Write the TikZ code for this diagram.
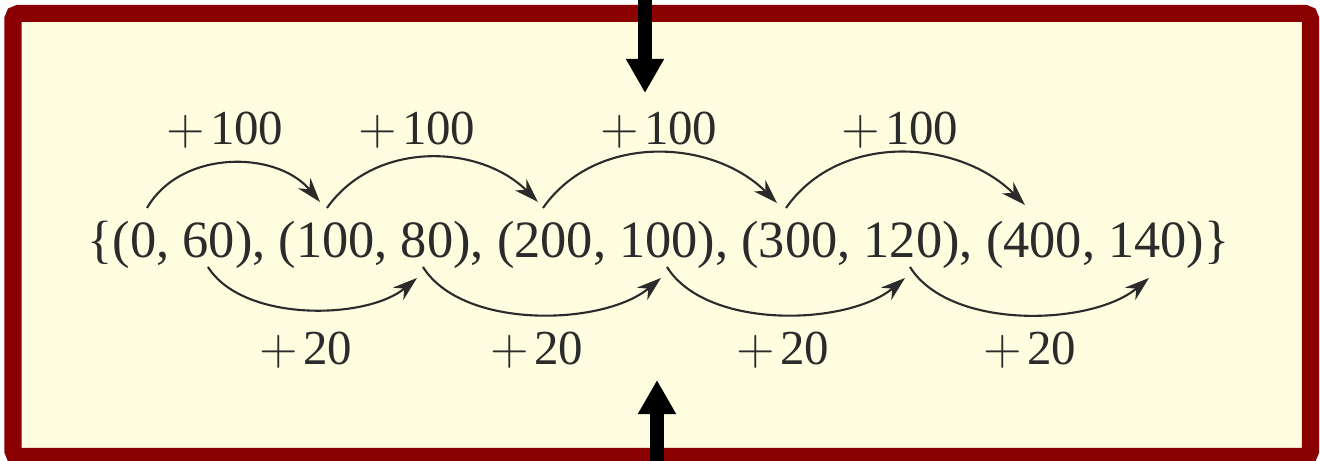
\documentclass[tikz,border=0pt]{standalone}
\usepackage{fontspec}
\setmainfont{Liberation Serif}
\usepackage{tikz}
\usetikzlibrary{arrows.meta,positioning}
\definecolor{frame}{HTML}{8B0000}
\definecolor{paper}{HTML}{FFFDE0}
\definecolor{ink}{HTML}{2B2B2B}
\newcommand{\plusstep}[1]{$+$\kern1.4pt#1}
\tikzset{
  setline/.style={font=\fontsize{14.9}{18}\selectfont, text=ink,
    inner sep=0pt, anchor=base west},
  steplabel/.style={font=\fontsize{13.9}{16}\selectfont, text=ink,
    inner sep=0pt},
  hop/.style={-{Stealth[length=7pt,width=4.6pt]}, ink, line width=0.6pt},
  pointer/.style={-{Triangle[length=9.7pt,width=10.2pt]}, line width=4pt, black},
}

\begin{document}
\begin{tikzpicture}[x=0.01cm,y=0.01cm]
    \useasboundingbox (0,0) rectangle (1320,461);
    \draw[frame, fill=paper, line width=4.84pt, rounded corners=1.5pt] (13,447.5) rectangle (1310.5,4.5);
    \node[setline] (pairs) at (87,203) {\{(0, 60), (100, 80), (200, 100), (300, 120), (400, 140)\}};
    % jumps in x
    \coordinate (x0) at (147,253);
    \coordinate (x1) at (320,259);
    \coordinate (x1s) at (327,253);
    \coordinate (x2) at (538,259);
    \coordinate (x2s) at (543,253);
    \coordinate (x3) at (777,258);
    \coordinate (x3s) at (786,253);
    \coordinate (x4) at (1025,256);
    \draw[hop] (x0) to[out=60,in=130] (x1);
    \draw[hop] (x1s) to[out=55,in=135] (x2);
    \draw[hop] (x2s) to[out=55,in=135] (x3);
    \draw[hop] (x3s) to[out=55,in=135] (x4);
    \node[steplabel] (dx1) at (225,331) {\plusstep{100}};
    \node[steplabel] (dx2) at (417,331) {\plusstep{100}};
    \node[steplabel] (dx3) at (659,331) {\plusstep{100}};
    \node[steplabel] (dx4) at (900,331) {\plusstep{100}};
    % jumps in y
    \coordinate (y0) at (208,194);
    \coordinate (y1) at (417,183);
    \coordinate (y1s) at (423,194);
    \coordinate (y2) at (661,183);
    \coordinate (y2s) at (667,194);
    \coordinate (y3) at (905,183);
    \coordinate (y3s) at (910,194);
    \coordinate (y4) at (1149,183);
    \draw[hop] (y0) to[out=-58,in=-140,looseness=0.8] (y1);
    \draw[hop] (y1s) to[out=-58,in=-140,looseness=0.8] (y2);
    \draw[hop] (y2s) to[out=-58,in=-140,looseness=0.8] (y3);
    \draw[hop] (y3s) to[out=-58,in=-140,looseness=0.8] (y4);
    \node[steplabel] (dy1) at (306,111) {\plusstep{20}};
    \node[steplabel] (dy2) at (537,111) {\plusstep{20}};
    \node[steplabel] (dy3) at (783,111) {\plusstep{20}};
    \node[steplabel] (dy4) at (1030,111) {\plusstep{20}};
    % pointers
    \coordinate (topin) at (645,470);
    \coordinate (toptip) at (645,368);
    \coordinate (botin) at (657,-10);
    \coordinate (bottip) at (657,81);
    \draw[pointer] (topin) -- (toptip);
    \draw[pointer] (botin) -- (bottip);
\end{tikzpicture}
\end{document}
